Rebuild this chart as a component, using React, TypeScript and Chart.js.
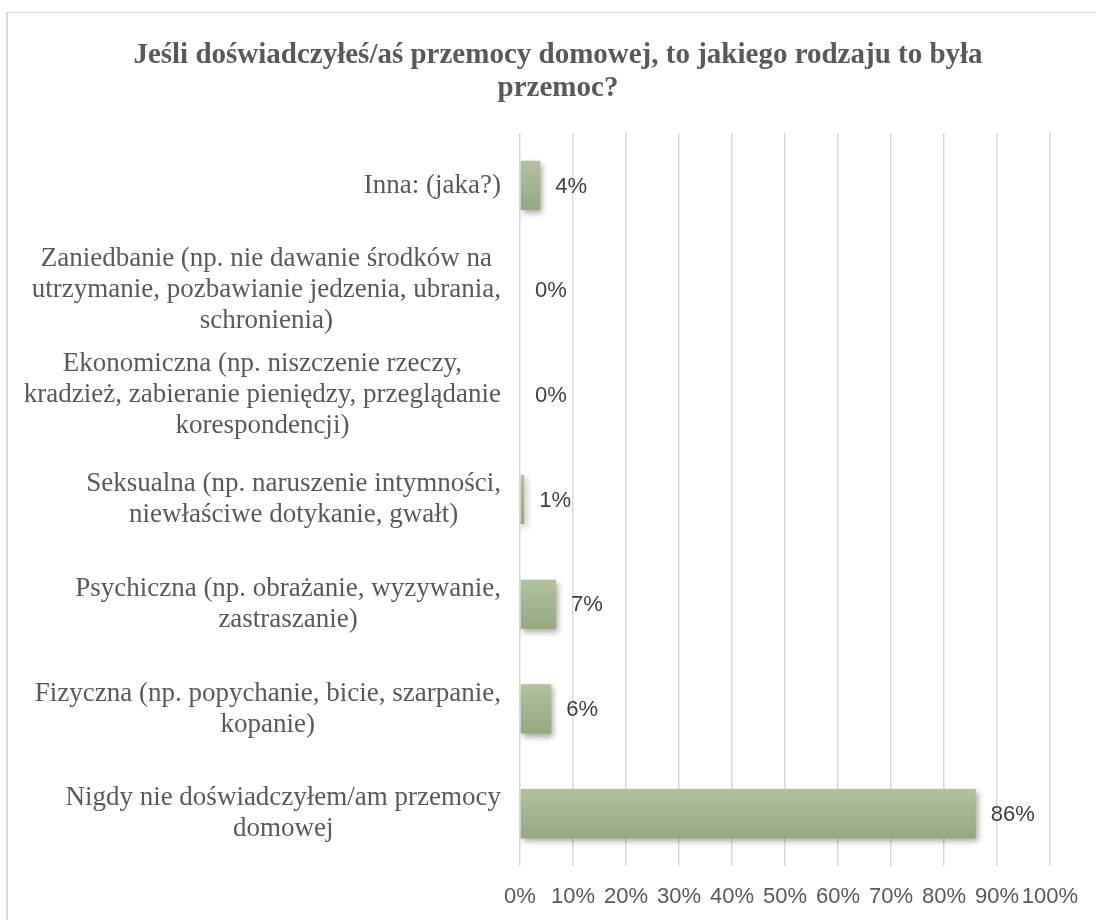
import React, { useEffect, useRef } from "react";
import { Chart, registerables } from "chart.js";

Chart.register(...registerables);

const titleLines: string[] = [
  "Jeśli doświadczyłeś/aś przemocy domowej, to jakiego rodzaju to była",
  "przemoc?",
];

const categories: string[][] = [
  ["Inna: (jaka?)"],
  ["Zaniedbanie (np. nie dawanie środków na", "utrzymanie, pozbawianie jedzenia, ubrania,", "schronienia)"],
  ["Ekonomiczna (np. niszczenie rzeczy,", "kradzież, zabieranie pieniędzy, przeglądanie", "korespondencji)"],
  ["Seksualna (np. naruszenie intymności,", "niewłaściwe dotykanie, gwałt)"],
  ["Psychiczna (np. obrażanie, wyzywanie,", "zastraszanie)"],
  ["Fizyczna (np. popychanie, bicie, szarpanie,", "kopanie)"],
  ["Nigdy nie doświadczyłem/am przemocy", "domowej"],
];

const values: number[] = [3.8, 0, 0, 0.8, 6.8, 5.9, 86];

const xMin = 0;
const xMax = 100;
const xStep = 10;

const LABEL_FONT = '27px "Liberation Serif", "Times New Roman", serif';
const LABEL_LINE = 31;

const shadowPlugin = {
  id: "barShadow",
  beforeDatasetsDraw(chart: any) {
    const ctx = chart.ctx;
    ctx.save();
    ctx.shadowColor = "rgba(0,0,0,0.35)";
    ctx.shadowBlur = 6;
    ctx.shadowOffsetX = 2;
    ctx.shadowOffsetY = 3;
  },
  afterDatasetsDraw(chart: any) {
    chart.ctx.restore();
  },
};

const labelsPlugin = {
  id: "customLabels",
  afterDraw(chart: any) {
    const ctx = chart.ctx;
    const yScale = chart.scales.y;
    const area = chart.chartArea;
    ctx.save();
    ctx.font = LABEL_FONT;
    ctx.fillStyle = "#595959";
    ctx.textAlign = "center";
    ctx.textBaseline = "middle";
    categories.forEach((lines, i) => {
      const y = yScale.getPixelForValue(i);
      const maxW = Math.max(...lines.map((l) => ctx.measureText(l).width));
      const cx = area.left - 19 - maxW / 2;
      lines.forEach((line, j) => {
        const ly = y + (j - (lines.length - 1) / 2) * LABEL_LINE;
        ctx.fillText(line, cx, ly);
      });
    });
    const meta = chart.getDatasetMeta(0);
    ctx.font = '22px "Liberation Sans", Arial, sans-serif';
    ctx.fillStyle = "#404040";
    ctx.textAlign = "left";
    meta.data.forEach((bar: any, i: number) => {
      ctx.fillText(Math.round(values[i]) + "%", bar.x + 15, bar.y + 1);
    });
    ctx.restore();
  },
};

export default function App() {
  const ref = useRef<HTMLCanvasElement>(null);

  useEffect(() => {
    if (!ref.current) return;
    const chart = new Chart(ref.current, {
      type: "bar",
      data: {
        labels: categories.map((c) => c.join(" ")),
        datasets: [
          {
            data: values,
            backgroundColor: (c: any) => {
              const chart = c.chart;
              const ys = chart.scales && chart.scales.y;
              if (!ys || c.dataIndex === undefined) return "#a5b58f";
              const y = ys.getPixelForValue(c.dataIndex);
              if (!Number.isFinite(y)) return "#a5b58f";
              const g = chart.ctx.createLinearGradient(0, y - 25, 0, y + 25);
              g.addColorStop(0, "#b3c19f");
              g.addColorStop(1, "#96a880");
              return g;
            },
            borderWidth: 0,
            barPercentage: 0.47,
            categoryPercentage: 1,
          },
        ],
      },
      options: {
        indexAxis: "y",
        responsive: false,
        animation: false,
        devicePixelRatio: 1,
        layout: { padding: 0 },
        plugins: {
          legend: { display: false },
          tooltip: { enabled: false },
          title: {
            display: true,
            text: titleLines,
            color: "#595959",
            font: { family: '"Liberation Serif", "Times New Roman", serif', size: 29, weight: "bold", lineHeight: 1.14 },
            padding: { top: 26, bottom: 28 },
          },
        },
        scales: {
          x: {
            type: "linear",
            min: xMin,
            max: xMax,
            ticks: {
              stepSize: xStep,
              callback: (v: any) => v + "%",
              color: "#595959",
              font: { family: '"Liberation Sans", Arial, sans-serif', size: 22 },
              padding: 18,
              maxRotation: 0,
              autoSkip: false,
            },
            grid: { color: "#d9d9d9", lineWidth: 1.5, drawTicks: false },
            border: { display: false },
            afterFit: (s: any) => {
              s.height = 54;
            },
          },
          y: {
            type: "category",
            ticks: { display: false },
            grid: { display: false },
            border: { display: false },
            afterFit: (s: any) => {
              s.width = 512;
            },
          },
          yRight: {
            type: "linear",
            position: "right",
            display: true,
            ticks: { display: false },
            grid: { display: false },
            border: { display: false },
            afterFit: (s: any) => {
              s.width = 58;
            },
          },
        },
      } as any,
      plugins: [shadowPlugin, labelsPlugin],
    });
    return () => chart.destroy();
  }, []);

  return (
    <div
      style={{
        position: "absolute",
        left: 6,
        top: 12,
        width: 1090,
        height: 908,
        overflow: "hidden",
        boxSizing: "border-box",
        borderLeft: "2px solid #d9d9d9",
        borderTop: "1px solid #d9d9d9",
        background: "#fff",
      }}
    >
      <canvas ref={ref} width={1100} height={907} style={{ display: "block" }} />
    </div>
  );
}
